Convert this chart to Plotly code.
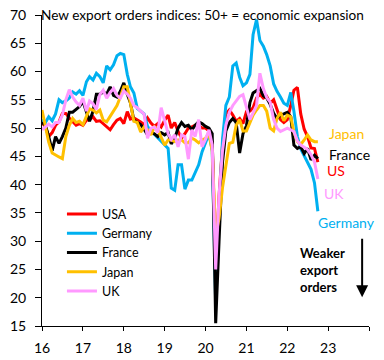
import pandas as pd
import plotly.graph_objects as go

dates = pd.date_range("2016-01-01", "2022-10-01", freq="MS")

usa = [51, 50.2, 48.5, 49.2, 50.5, 51.1, 52.6, 52.6, 51.8, 51.1, 50.5, 50.8, 50.5, 51.4, 51.5, 52, 51.2, 51.3, 50.8, 50.2, 49.7, 50.6, 51.4, 51.7, 50.8, 52.9, 51.6,
       51.8, 51.5, 51.1, 50.6, 51.8, 50.9, 50.3, 50.8, 50.2, 51.4, 52.3, 50, 51, 49.4, 48.2, 49, 50, 50.2, 50.5, 50.5, 50, 50, 49.5, 47.5, 26,
       38, 47, 52.5, 53.2, 52.3, 51.2, 51.7, 50.8, 52.9, 53, 53.6, 55.3, 56, 55.3, 55.6, 54.4, 55, 53.2, 51.5, 51, 51.5, 54, 56.7, 57.2, 52.5, 49.8, 48.5, 46.5, 46.4, 44]
germany = [51.5, 51, 52, 51.3, 52.5, 55, 54.5, 54.8, 55.3, 56.4, 56, 56.6, 55.8, 58.2, 59.1, 58.5, 59.7, 59.1, 58, 61, 60.3, 61.2, 62.8, 63.2, 63, 59.5, 57.3,
           56.2, 53.5, 53, 52.5, 50.3, 49.4, 48.9, 48.3, 47.6, 47, 46.4, 39.4, 39, 43.5, 43.5, 39.2, 40.8, 40.8, 42, 43.5, 45.8, 47.6, 49, 46, 19,
           35, 48, 54, 55.5, 61, 61.5, 59, 57.5, 58, 59.5, 66.5, 69.2, 65.5, 64.5, 63, 61, 57.8, 56.5, 55.5, 54.4, 54, 56.3, 53, 48.5, 46.3, 45, 43.8, 42.7, 40.3, 35.3]
france = [51, 50.5, 48.5, 46, 48.5, 47.3, 48.5, 50, 52.8, 52.8, 53.3, 53.8, 54.7, 53, 51.2, 53, 56, 56, 56.4, 56, 57.3, 55.8, 55.5, 56.5, 58, 56, 54.5,
          51.4, 51, 50.6, 49.8, 48.8, 49.2, 49, 48.5, 49.2, 48.8, 49.2, 47.2, 48.2, 50, 51, 50.3, 50.5, 49.7, 50.5, 51.1, 50.8, 50.3, 50, 49, 15.5,
          30, 44, 49.5, 51, 51.7, 51, 45.6, 49, 50.4, 54.5, 56.2, 56.6, 57, 55.7, 55.3, 54.2, 52.6, 51.7, 52.3, 52.5, 52.8, 52, 47, 46.4, 46.7, 45.5, 46.4, 44.4, 45.2, 44.6]
japan = [53.2, 50.5, 47.5, 45.6, 45.2, 44.9, 44.6, 48.5, 50.5, 51.7, 51, 51.2, 50.6, 52, 53.4, 53.2, 52.7, 53.2, 51.4, 51.1, 52, 53, 54, 55.5, 57.3, 57.3, 54.7,
         51.2, 51, 49.3, 50.2, 49.7, 48.8, 50.2, 49.7, 48.2, 47, 47.9, 47.9, 47.6, 47.9, 47.9, 47.4, 47.4, 48.2, 47.9, 47.4, 47.9, 48.2, 49, 46, 31,
         34, 39.5, 43.5, 47.3, 47.5, 50.5, 51.5, 49.5, 49.5, 51, 52.3, 53.2, 54, 54, 53, 50, 49.5, 51.7, 52.8, 51.3, 52.3, 52, 49.3, 47.6, 47.1, 47.9, 48.8, 47.9, 47.6, 47.6]
uk = [49.7, 50.3, 50.7, 50.2, 51, 51, 52.3, 55, 56.8, 55.5, 54.6, 54, 55.3, 53, 54.8, 54.3, 53.3, 55.9, 56.7, 55.3, 56.3, 57, 55.8, 55.3, 56.6, 56, 55.3,
      54, 53.6, 53, 52.5, 48.2, 50, 50.2, 49.2, 53.6, 51.4, 49, 48, 48.8, 46.7, 48.8, 48.5, 44.5, 49.7, 48.5, 51.5, 46.7, 48, 49.7, 47, 25,
      38, 46, 50.5, 52.8, 54, 54.7, 55.6, 55.9, 53.5, 51.5, 52.7, 54, 59.7, 57, 55.4, 54.6, 51.5, 50, 49.4, 49.7, 50, 49.7, 49.4, 47.7, 47, 46.6, 46.2, 45.3, 44, 41]

series_names = ["USA", "Germany", "France", "Japan", "UK"]
series_values = [usa, germany, france, japan, uk]
series_colors = ["#FF0000", "#00B0F0", "#000000", "#FFC000", "#FF99FF"]

year_ticks = pd.date_range("2016-01-01", "2024-01-01", freq="YS")
year_labels = ["16", "17", "18", "19", "20", "21", "22", "23", ""]

FONT = "Lato"
FS = 14

fig = go.Figure()
for name, vals, col in zip(series_names, series_values, series_colors):
    fig.add_trace(go.Scatter(x=dates, y=vals, mode="lines", name=name,
                             line=dict(color=col, width=3)))

end_labels = [("Japan", "#FFC000", 0.881, 49.13), ("France", "#000000", 0.881, 45.3),
              ("US", "#FF0000", 0.875, 42.45), ("UK", "#FF99FF", 0.865, 38.4),
              ("Germany", "#00B0F0", 0.847, 33.35)]
annotations = [dict(text="New export orders indices: 50+ = economic expansion", xref="paper", yref="y",
                    x=0, y=70, xanchor="left", yanchor="middle", xshift=-3, showarrow=False,
                    font=dict(family=FONT, size=13.6, color="#000000"))]
for txt, col, ax_, ay_ in end_labels:
    annotations.append(dict(text=txt, xref="paper", yref="y", x=ax_, y=ay_, xanchor="left", xshift=-3,
                            yanchor="middle", showarrow=False, font=dict(family=FONT, size=FS, color=col)))
annotations.append(dict(text="<b>Weaker<br>export<br>orders</b>", xref="paper", yref="y", x=0.795, y=24.85,
                        xanchor="left", yanchor="middle", align="left", showarrow=False, xshift=-4,
                        font=dict(family=FONT, size=13, color="#000000")))
annotations.append(dict(text="", xref="paper", yref="y", x=0.979, y=20.1, showarrow=True,
                        ax=0, ay=-60, arrowhead=2, arrowsize=1.2, arrowwidth=2, arrowcolor="#000000"))

fig.update_layout(
    width=384, height=360,
    margin=dict(l=42, r=15, t=15, b=34),
    paper_bgcolor="white", plot_bgcolor="white",
    font=dict(family=FONT, size=FS, color="#000000"),
    showlegend=True,
    legend=dict(x=0.061, y=0.407, xanchor="left", yanchor="top", bgcolor="rgba(0,0,0,0)",
                font=dict(family=FONT, size=12.5, color="#000000"), tracegroupgap=0),
    annotations=annotations,
    xaxis=dict(range=["2016-01-01", "2024-01-01"], tickvals=list(year_ticks), ticktext=year_labels,
               showgrid=False, zeroline=False, showline=True, linecolor="#000000", linewidth=1,
               ticks="outside", ticklen=4, tickcolor="#000000", tickfont=dict(family=FONT, size=FS),
               ticklabelstandoff=5, automargin=False),
    yaxis=dict(range=[15, 70], dtick=5, tick0=15, showgrid=False, zeroline=False, showline=True,
               linecolor="#000000", linewidth=1, ticks="outside", ticklen=6, tickcolor="#000000",
               tickfont=dict(family=FONT, size=FS), ticklabelstandoff=6, automargin=False),
)

fig.write_html("out.html", config={"displayModeBar": False},
               post_script="document.body.style.margin='0';")
